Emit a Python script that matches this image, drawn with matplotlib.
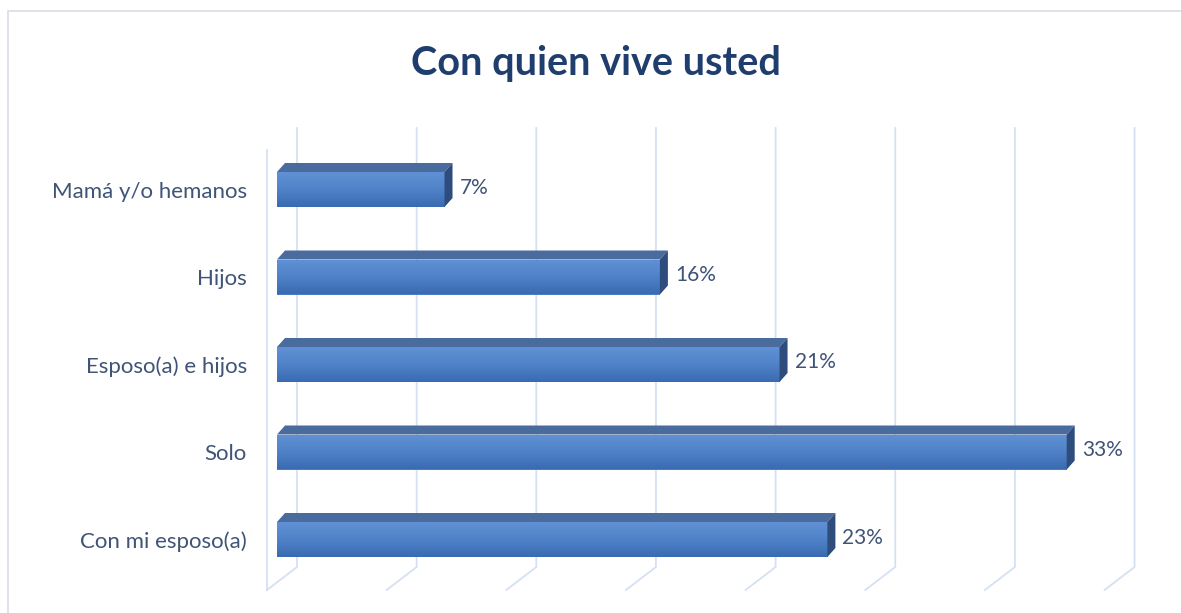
import numpy as np
import matplotlib.pyplot as plt
from matplotlib.patches import Polygon, Rectangle
from matplotlib.colors import LinearSegmentedColormap

plt.rcParams['font.family'] = ['Lato', 'DejaVu Sans']

# datos
categorias = ['Con mi esposo(a)', 'Solo', 'Esposo(a) e hijos', 'Hijos', 'Mamá y/o hemanos']
valores = [23, 33, 21, 16, 7]
etiquetas = ['23%', '33%', '21%', '16%', '7%']
ticks_x = [0, 5, 10, 15, 20, 25, 30, 35]

W, H = 1181, 613
fig = plt.figure(figsize=(W / 100, H / 100), dpi=100)
ax = fig.add_axes([0, 0, 1, 1])
ax.set_axis_off()

# escala: pixeles -> unidades de datos
PX_X = 1 / 23.93
PX_Y = 1 / 87.5
X0 = 277      # cara frontal en 0
Y0 = 539.5    # centro de la primera barra
def ux(px):
    return (px - X0) * PX_X
def uy(py):
    return (Y0 - py) * PX_Y

# profundidad 3D
back_dx = 20 * PX_X
front_dx = -10 * PX_X
wall_top, wall_bot, front_bot = uy(128), uy(567), uy(590)
grid_col = '#d5e1f2'

for g in ticks_x:
    xb = g + back_dx
    ax.plot([xb, xb, xb - 30 * PX_X], [wall_top, wall_bot, front_bot],
            color=grid_col, lw=1.3, zorder=1)
ax.plot([front_dx, front_dx], [uy(150), front_bot], color=grid_col, lw=1.3, zorder=1)

# barras
alto = 35 * PX_Y
ddx, ddy = 8 * PX_X, 9 * PX_Y
cmap = LinearSegmentedColormap.from_list('b', ['#3a6bb2', '#4f82c8', '#6191d4'])
grad = np.linspace(0, 1, 100).reshape(-1, 1)

bars = ax.barh(range(len(valores)), valores, height=alto, left=0,
               color='#4a7dc4', edgecolor='none', zorder=3)
for i, (b, v) in enumerate(zip(bars, valores)):
    y0, y1 = i - alto / 2, i + alto / 2
    im = ax.imshow(grad, extent=[0, v, y0, y1], origin='lower', aspect='auto',
                   cmap=cmap, zorder=4)
    im.set_clip_path(b)
    top = Polygon([[0, y1], [ddx, y1 + ddy], [v + ddx, y1 + ddy], [v, y1]],
                  closed=True, facecolor='#4a6b9e', edgecolor='none', zorder=4)
    side = Polygon([[v, y0], [v, y1], [v + ddx, y1 + ddy], [v + ddx, y0 + ddy]],
                   closed=True, facecolor='#2e4c7c', edgecolor='none', zorder=4)
    ax.add_patch(top)
    ax.add_patch(side)
    ax.text(v + ddx + 7 * PX_X, i + 2 * PX_Y, etiquetas[i], ha='left', va='center',
            fontsize=15, color='#3f5477', zorder=5)
    ax.text(ux(247), i - 2 * PX_Y, categorias[i], ha='right', va='center',
            fontsize=16, color='#3f5477', zorder=5)

ax.set_xlim(ux(0), ux(W))
ax.set_ylim(uy(H), uy(0))

# borde del grafico
fig.patches.append(Rectangle((8 / W, -0.05), 1.1, 1.05 - 11 / H,
                             transform=fig.transFigure, fill=False,
                             edgecolor='#d9dde6', lw=1.2))

fig.text(596 / W, 1 - 63 / H, 'Con quien vive usted', ha='center', va='center',
         fontsize=28.5, fontweight='bold', color='#1f3d6d')

fig.savefig('out.png', dpi=100)
